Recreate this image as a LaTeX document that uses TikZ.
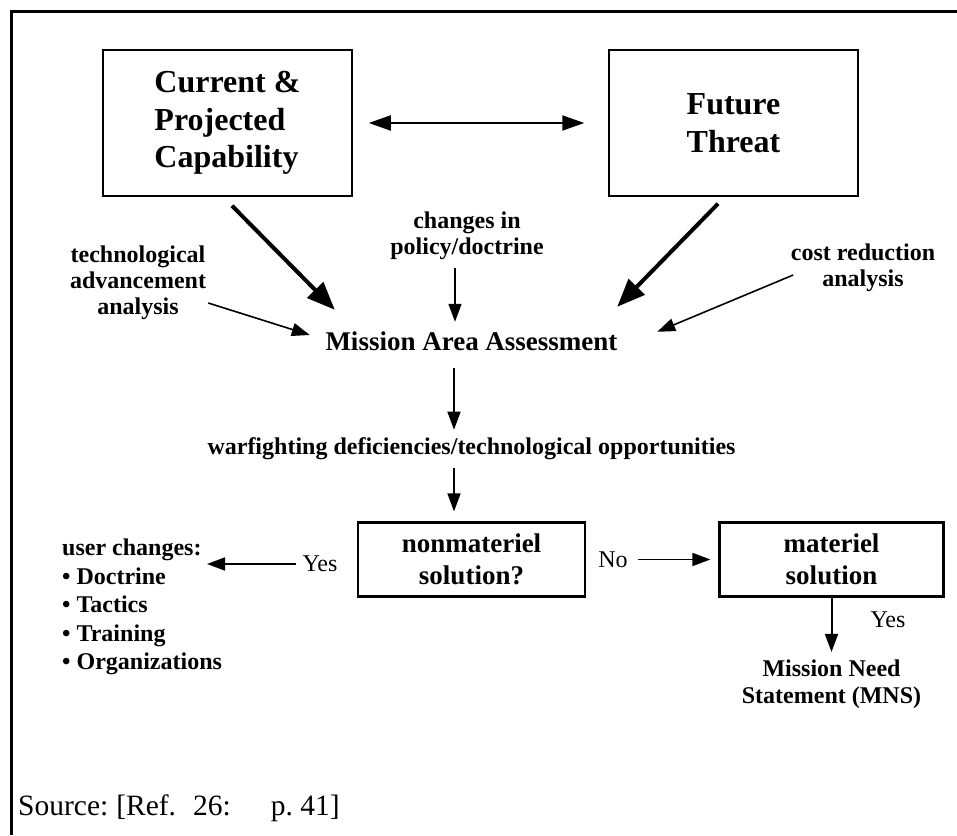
\documentclass[tikz,border=0pt]{standalone}
\usepackage{fontspec}
\setmainfont{Liberation Serif}
\usepackage{tikz}
\usetikzlibrary{positioning,arrows.meta,calc}
\newcommand{\fontbig}{\fontsize{32}{37.5}\selectfont\bfseries}
\newcommand{\fontmid}{\fontsize{27}{32}\selectfont\bfseries}
\newcommand{\fontnote}{\fontsize{24}{26}\selectfont\bfseries}
\newcommand{\fontplain}{\fontsize{24}{26}\selectfont}
\newcommand{\fontsrc}{\fontsize{29.5}{34}\selectfont}
\tikzset{
    on grid,
    node distance=3cm,
    auto,
    block/.style = {
        draw,
        shape=rectangle,
        minimum height=146pt,
        minimum width=249pt,
        line width=1.5pt,
        font=\fontbig
    },
    choice/.style = {
        draw,
        shape=rectangle,
        minimum height=74pt,
        minimum width=226pt,
        line width=2.2pt,
        font=\fontmid,
        align=center
    },
    empty/.style = {
        shape=rectangle,
        inner sep=2pt,
        font=\fontnote,
        align=center
    },
    flow/.style = {draw, line width=1.6pt, -{Triangle[length=18pt,width=13pt]}},
    bigflow/.style = {draw, line width=4pt, -{Triangle[length=28pt,width=22pt]}},
    >={Triangle[length=22pt,width=15pt]},
}

\begin{document}
\begin{tikzpicture}[x=1pt,y=1pt]
        \useasboundingbox (0,0) rectangle (957,835);
        \draw[line width=3pt] (957,823) -- (11,823) -- (11,0);

        \node[block, align=left] (current) at (227.5,712) {Current \&\\Projected\\Capability};
        \node[block, align=center, right=506pt of current] (threat) {Future\\Threat};

        \node[empty, font=\fontmid] (mission) at (471.5,494) {Mission Area Assessment};
        \node[empty] (tech) at (138,552) {technological\\advancement\\analysis};
        \node[empty, above left=105pt and 4.5pt of mission] (changes) {changes in\\policy/doctrine};
        \node[empty] (cost) at (863,567) {cost reduction\\analysis};

        \node[empty, below=108pt of mission] (warf) {warfighting deficiencies/technological opportunities};
        \node[choice, minimum width=227pt, below=110.5pt of warf] (nonmat) {nonmateriel\\solution?};
        \node[choice, minimum width=224pt, right=360pt of nonmat] (materiel) {materiel\\solution};

        \node[empty, font=\fontplain, below left=4.5pt and 151.5pt of nonmat] (yesl) {Yes};
        \coordinate[left=113pt of yesl] (usertip);
        \node[empty, font=\fontplain, right=141.5pt of nonmat] (no) {No};
        \node[empty, inner sep=0pt, align=left, anchor=north west, font=\fontsize{24}{28.5}\selectfont\bfseries] (users) at (62,296)
            {user changes:\\\textbullet\ Doctrine\\\textbullet\ Tactics\\\textbullet\ Training\\\textbullet\ Organizations};

        \node[empty, font=\fontplain, below right=60.5pt and 56.5pt of materiel] (yesr) {Yes};
        \node[empty, font=\fontsize{24}{27}\selectfont\bfseries, below=124.5pt of materiel] (mns) {Mission Need\\Statement (MNS)};

        \node[empty, font=\fontsrc, inner sep=0pt, anchor=west] (source) at (18,27)
            {Source:\hspace{8pt}[Ref.\hspace{17pt}26:\hspace{40pt}p.~41]};

        \path[draw, line width=2pt, <->, shorten <=16pt, shorten >=24pt] (current.east) -- (threat.west);

        \path[bigflow] ([shift={(4.5pt,-9pt)}]current.south) -- ([shift={(11.5pt,19.5pt)}]mission.north west);
        \path[bigflow] ([shift={(-15.5pt,-7pt)}]threat.south) -- ([shift={(-2.5pt,22.5pt)}]mission.north east);
        \path[flow] ([shift={(0pt,-20pt)}]tech.east) -- ([shift={(-13.5pt,6pt)}]mission.west);
        \path[flow] ([shift={(-12pt,-6pt)}]changes.south) -- ([shift={(-16.5pt,7.5pt)}]mission.north);
        \path[flow] ([shift={(4.5pt,-7pt)}]cost.west) -- ([shift={(37.5pt,-2.5pt)}]mission.north east);

        \path[flow] ([shift={(-17.5pt,-15pt)}]mission.south) -- ([shift={(-17.5pt,6pt)}]warf.north);
        \path[flow] ([shift={(-17.5pt,-6pt)}]warf.south) -- ([shift={(-17.5pt,10pt)}]nonmat.north);

        \path[flow, shorten <=4.5pt] (yesl.west) -- (usertip);
        \path[flow, shorten <=8.5pt, shorten >=8pt] (no.east) -- (no.east -| materiel.west);
        \path[flow, line width=2pt, shorten >=5.5pt] (materiel.south) -- (mns.north);
    \end{tikzpicture}
\end{document}
